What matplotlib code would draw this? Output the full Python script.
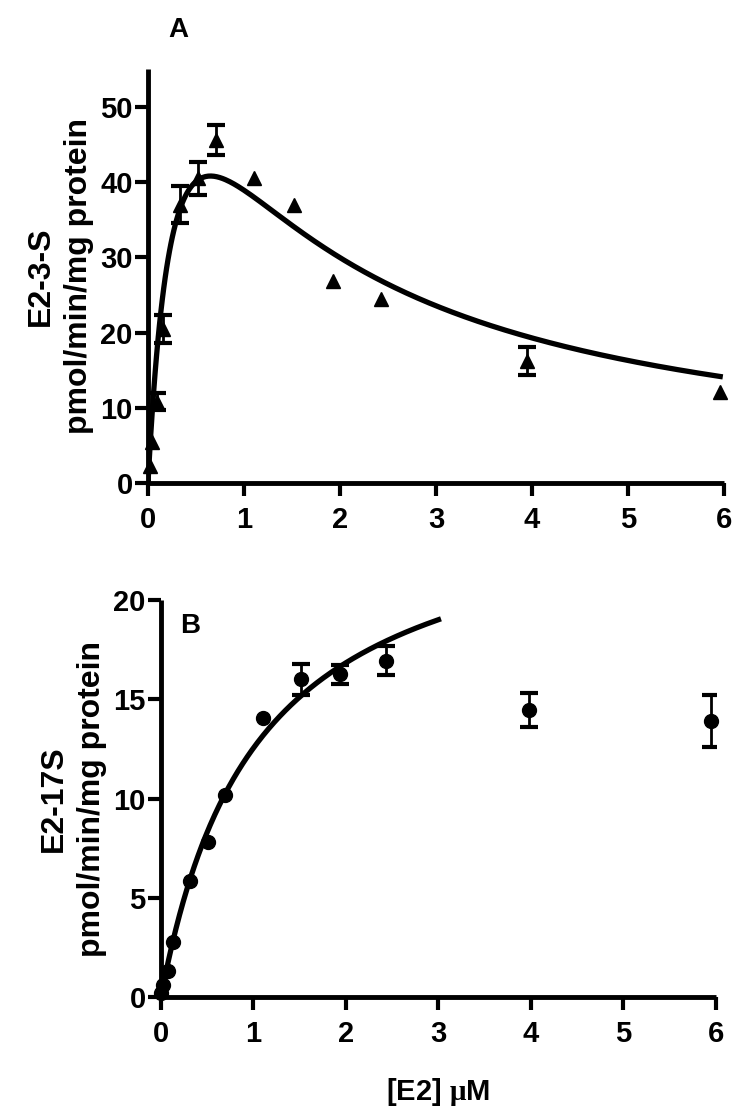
import numpy as np
import matplotlib
matplotlib.use('Agg')
import matplotlib.pyplot as plt

plt.rcParams['font.family'] = ['Liberation Sans', 'DejaVu Sans']
plt.rcParams['font.weight'] = 'bold'
plt.rcParams['mathtext.fontset'] = 'custom'
plt.rcParams['mathtext.rm'] = 'Liberation Serif'

# panel A: E2-3-S formation (triangles)
conc_a = [0.02, 0.04, 0.09, 0.16, 0.33, 0.52, 0.71, 1.10, 1.52, 1.93, 2.43, 3.95, 5.96]
rate_a = [2.2, 5.5, 10.8, 20.5, 37.0, 40.5, 45.6, 40.6, 37.0, 26.8, 24.4, 16.2, 12.1]
sem_a = [0, 0, 1.1, 1.85, 2.45, 2.15, 2.05, 0, 0, 0, 0, 1.85, 0]
# substrate inhibition fit: Vmax, Km, Ki
vmax_a, km_a, ki_a = 84.7, 0.35, 1.21

# panel B: E2-17S formation (circles)
conc_b = [0.005, 0.025, 0.08, 0.13, 0.31, 0.51, 0.69, 1.10, 1.51, 1.93, 2.43, 3.98, 5.95]
rate_b = [0.2, 0.6, 1.3, 2.75, 5.85, 7.8, 10.2, 14.05, 16.0, 16.25, 16.95, 14.45, 13.9]
sem_b = [0, 0, 0, 0, 0, 0, 0, 0, 0.8, 0.5, 0.75, 0.85, 1.3]
# Michaelis-Menten fit: Vmax, Km
vmax_b, km_b = 25.6, 1.04

fig = plt.figure(figsize=(7.52, 11.12), dpi=100)
ax1 = fig.add_axes([0.1968, 0.5657, 0.766, 0.372])
ax2 = fig.add_axes([0.2141, 0.1034, 0.738, 0.357])

def style(ax):
    for s in ['top', 'right']:
        ax.spines[s].set_visible(False)
    for s in ['left', 'bottom']:
        ax.spines[s].set_linewidth(3.5)
        ax.spines[s].set_capstyle('butt')
    ax.tick_params(direction='out', length=9.5, width=3, labelsize=21)
    ax.tick_params(axis='x', pad=7)
    ax.tick_params(axis='y', pad=1.5)
    for lab in ax.get_xticklabels() + ax.get_yticklabels():
        lab.set_fontweight('bold')

# top panel
xa = np.array(conc_a)
ya = np.array(rate_a)
ea = np.array(sem_a)
s = np.linspace(0, 5.96, 400)
ax1.plot(s, vmax_a * s / (km_a + s * (1 + s / ki_a)), color='black', lw=3.8, zorder=3)
ax1.plot(xa, ya, '^', color='black', ms=10.5, clip_on=False, zorder=4)
m = ea > 0
ax1.errorbar(xa[m], ya[m], yerr=ea[m], fmt='none', ecolor='black', elinewidth=2,
             capsize=6.5, capthick=3, zorder=4)
ax1.set_xlim(0, 6)
ax1.set_ylim(0, 55)
ax1.set_xticks(range(0, 7))
ax1.set_yticks(range(0, 51, 10))
style(ax1)
ax1.set_ylabel('E2-3-S\npmol/min/mg protein', fontsize=23, fontweight='bold',
               linespacing=1.35)
ax1.yaxis.set_label_coords(-0.094, 0.5)
ax1.text(0.052, 1.095, 'A', transform=ax1.transAxes, fontsize=20, fontweight='bold',
         ha='center', va='center')

# bottom panel
xb = np.array(conc_b)
yb = np.array(rate_b)
eb = np.array(sem_b)
s = np.linspace(0, 3, 300)
ax2.plot(s, vmax_b * s / (km_b + s), color='black', lw=3.8, zorder=3)
ax2.plot(xb, yb, 'o', color='black', ms=10, clip_on=False, zorder=4)
m = eb > 0
ax2.errorbar(xb[m], yb[m], yerr=eb[m], fmt='none', ecolor='black', elinewidth=2,
             capsize=6.5, capthick=3, zorder=4)
ax2.set_xlim(0, 6)
ax2.set_ylim(0, 20)
ax2.set_xticks(range(0, 7))
ax2.set_yticks(range(0, 21, 5))
style(ax2)
ax2.set_ylabel('E2-17S\npmol/min/mg protein', fontsize=23, fontweight='bold',
               linespacing=1.35)
ax2.yaxis.set_label_coords(-0.097, 0.5)
ax2.set_xlabel(r'[E2] $\mathrm{\mu}$M', fontsize=21, fontweight='bold', labelpad=20)
ax2.text(0.052, 0.935, 'B', transform=ax2.transAxes, fontsize=20, fontweight='bold',
         ha='center', va='center')

fig.savefig('out.png', dpi=100)
